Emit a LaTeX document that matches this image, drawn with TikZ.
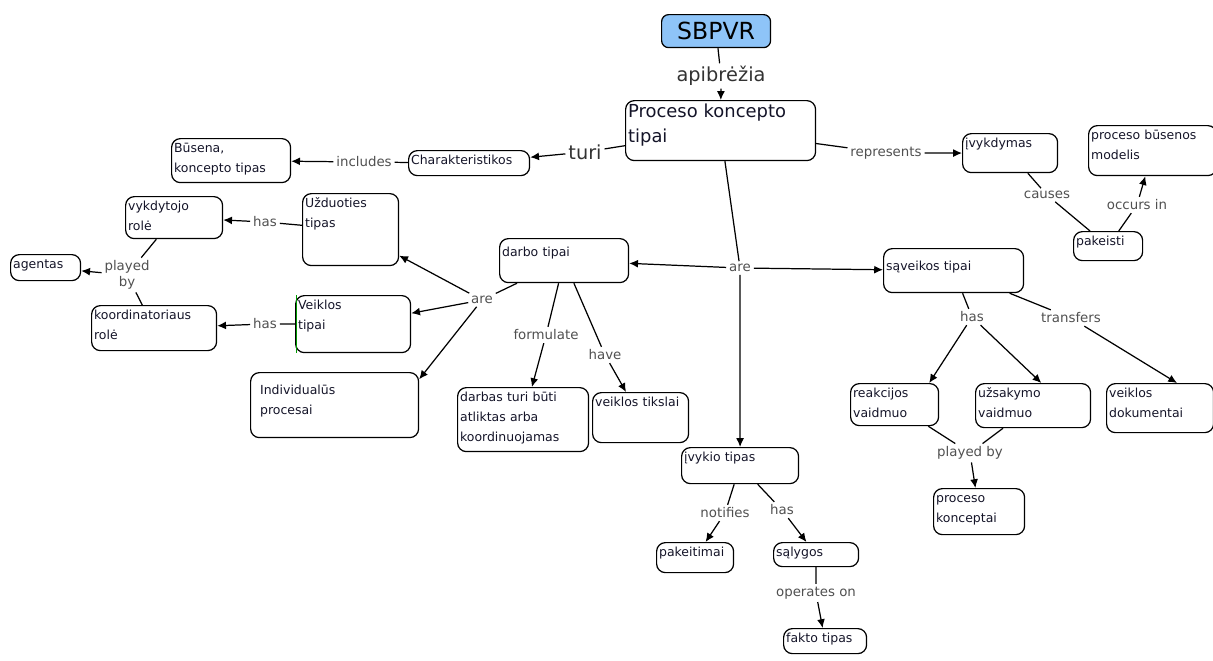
\documentclass[tikz,border=0pt]{standalone}
\usepackage{fontspec}
\setmainfont{DejaVu Sans}
\usetikzlibrary{arrows.meta}
\definecolor{sbblue}{RGB}{142,196,248}
\definecolor{linkgray}{RGB}{80,80,80}
\definecolor{conceptink}{RGB}{20,20,40}
\newcommand{\conceptfont}{\fontsize{7.1}{11.4}\selectfont}
\newcommand{\phrasefont}{\fontsize{7.6}{9}\selectfont}
\newcommand{\bigphrasefont}{\fontsize{11}{13}\selectfont}
\tikzset{
  concept/.style={draw,line width=0.7pt,rounded corners=5pt,anchor=north west,
    align=left,inner sep=0.05cm,text height=0.22cm,font=\conceptfont,text=conceptink},
  linkword/.style={font=\phrasefont,text=linkgray,inner sep=1.5pt,align=center},
  conn/.style={line width=0.7pt},
}

\begin{document}
\begin{tikzpicture}[x=0.02cm,y=-0.02cm,>={Latex[length=5pt,width=4.5pt]}]
            \useasboundingbox (0,0) rectangle (1213,660);
            % concepts
            \node[draw,line width=0.7pt,rounded corners=4pt,fill=sbblue,anchor=north west,
              minimum width=2.18cm,minimum height=0.66cm,inner sep=0pt,
              font=\fontsize{13.4}{15}\selectfont] (sbpvr) at (661,14) {SBPVR};
            \node[concept,font=\fontsize{10.2}{14.2}\selectfont,text height=0.28cm,
              text width=3.7cm,text depth=0.82cm] (pkt) at (625,100) {Proceso koncepto\\tipai};
            \node[concept,text width=2.32cm,text depth=0.18cm] (charak) at (408,150) {Charakteristikos};
            \node[concept,text width=2.28cm,text depth=0.56cm] (busena) at (171,138) {Būsena,\\koncepto tipas};
            \node[concept,text width=1.80cm,text depth=0.46cm] (ivykd) at (962,133) {įvykdymas};
            \node[concept,text width=2.46cm,text depth=0.68cm] (modelis) at (1088,125) {proceso būsenos\\modelis};
            \node[concept,text width=1.28cm,text depth=0.26cm] (pakeisti) at (1073,231) {pakeisti};
            \node[concept,text width=2.70cm,text height=0.38cm,text depth=0.40cm] (saveik) at (883,248) {sąveikos tipai};
            \node[concept,text width=2.48cm,text height=0.30cm,text depth=0.48cm] (darbo) at (499,238) {darbo tipai};
            \node[concept,text width=1.82cm,text depth=1.12cm] (uzduot) at (302,193) {Užduoties\\tipas};
            \node[concept,text width=2.20cm,text depth=0.82cm] (veikl) at (295,295) {Veiklos\\tipai};
            \node[concept,text width=3.26cm,text height=0.38cm,text depth=0.82cm] (indiv) at (250,372) {\hspace*{4pt}Individualūs\\\hspace*{4pt}procesai};
            \node[concept,text width=1.84cm,text depth=0.52cm] (vykdyt) at (125,196) {vykdytojo\\rolė};
            \node[concept,text width=1.30cm,text depth=0.20cm] (agentas) at (10,254) {agentas};
            \node[concept,text width=2.40cm,text depth=0.58cm] (koord) at (91,305) {koordinatoriaus\\rolė};
            \node[concept,text width=2.52cm,text depth=0.96cm] (darbas) at (457,387) {darbas turi būti\\atliktas arba\\koordinuojamas};
            \node[concept,text width=1.82cm,text depth=0.68cm] (tikslai) at (592,392) {veiklos tikslai};
            \node[concept,text width=2.24cm,text depth=0.40cm] (ivykio) at (681,447) {įvykio tipas};
            \node[concept,text width=1.44cm,text depth=0.28cm] (pakeit) at (656,542) {pakeitimai};
            \node[concept,text width=1.60cm,text depth=0.16cm] (salyg) at (773,542) {sąlygos};
            \node[concept,text width=1.56cm,text depth=0.18cm] (fakto) at (783,628) {fakto tipas};
            \node[concept,text width=1.66cm,text depth=0.52cm] (reakc) at (850,383) {reakcijos\\vaidmuo};
            \node[concept,text width=2.20cm,text depth=0.56cm] (uzsak) at (975,383) {užsakymo\\vaidmuo};
            \node[concept,text width=2.04cm,text depth=0.66cm] (dokum) at (1106,383) {veiklos\\dokumentai};
            \node[concept,text width=1.72cm,text depth=0.60cm] (koncept) at (933,488) {proceso\\konceptai};
            \draw[green!60!black,line width=0.6pt] ([xshift=1pt]veikl.north west) -- ([xshift=1pt]veikl.south west);

            % linking phrases
            \node[linkword,font=\bigphrasefont,text=black!80] (apibr) at (721,76) {apibrėžia};
            \node[linkword,font=\bigphrasefont,text=black!80] (turi) at (585,152) {turi};
            \node[linkword] (includes) at (364,162) {includes};
            \node[linkword] (repres) at (886,153) {represents};
            \node[linkword] (causes) at (1047,195) {causes};
            \node[linkword] (occurs) at (1137,205) {occurs in};
            \node[linkword] (areA) at (740,268) {are};
            \node[linkword] (areB) at (482,300) {are};
            \node[linkword] (hasA) at (265,222) {has};
            \node[linkword] (playedA) at (127,275) {played\\by};
            \node[linkword] (hasB) at (265,324) {has};
            \node[linkword] (formul) at (546,335) {formulate};
            \node[linkword] (have) at (605,355) {have};
            \node[linkword] (notif) at (725,513) {notifies};
            \node[linkword] (hasC) at (782,510) {has};
            \node[linkword] (operat) at (816,593) {operates on};
            \node[linkword] (hasD) at (972,317) {has};
            \node[linkword] (transf) at (1071,318) {transfers};
            \node[linkword] (playedB) at (970,453) {played by};

            % connectors
            \draw[conn] (sbpvr) -- (apibr);
            \draw[conn,->] (apibr) -- (pkt);
            \draw[conn] (pkt) -- (turi);
            \draw[conn,->] (turi) -- (charak);
            \draw[conn] (charak) -- (includes);
            \draw[conn,->] (includes) -- (busena);
            \draw[conn] (pkt) -- (repres);
            \draw[conn,->] (repres) -- (ivykd);
            \draw[conn] (ivykd) -- (causes);
            \draw[conn] (causes) -- (pakeisti);
            \draw[conn] (pakeisti) -- (occurs);
            \draw[conn,->] (occurs) -- (modelis);
            \draw[conn] (pkt) -- (areA);
            \draw[conn,->] (areA) -- (darbo);
            \draw[conn,->] (areA) -- (saveik);
            \draw[conn,->] (areA) -- (ivykio);
            \draw[conn] (darbo) -- (areB);
            \draw[conn,->] (areB) -- (uzduot);
            \draw[conn,->] (areB) -- (veikl);
            \draw[conn,->] (areB) -- (indiv.17);
            \draw[conn] (uzduot) -- (hasA);
            \draw[conn,->] (hasA) -- (vykdyt);
            \draw[conn] (veikl) -- (hasB);
            \draw[conn,->] (hasB) -- (koord);
            \draw[conn] (vykdyt) -- (playedA);
            \draw[conn] (koord) -- (playedA);
            \draw[conn,->] (playedA) -- (agentas);
            \draw[conn] (darbo) -- (formul);
            \draw[conn,->] (formul) -- (darbas);
            \draw[conn] (darbo) -- (have);
            \draw[conn,->] (have) -- (tikslai);
            \draw[conn] (ivykio) -- (notif);
            \draw[conn,->] (notif) -- (pakeit);
            \draw[conn] (ivykio) -- (hasC);
            \draw[conn,->] (hasC) -- (salyg);
            \draw[conn] (salyg) -- (operat);
            \draw[conn,->] (operat) -- (fakto);
            \draw[conn] (saveik) -- (hasD);
            \draw[conn,->] (hasD) -- (reakc.32);
            \draw[conn,->] (hasD) -- (uzsak.70);
            \draw[conn] (saveik) -- (transf);
            \draw[conn,->] (transf) -- (dokum.56);
            \draw[conn] (reakc) -- (playedB);
            \draw[conn] (uzsak) -- (playedB);
            \draw[conn,->] (playedB) -- (koncept);
        \end{tikzpicture}
\end{document}
